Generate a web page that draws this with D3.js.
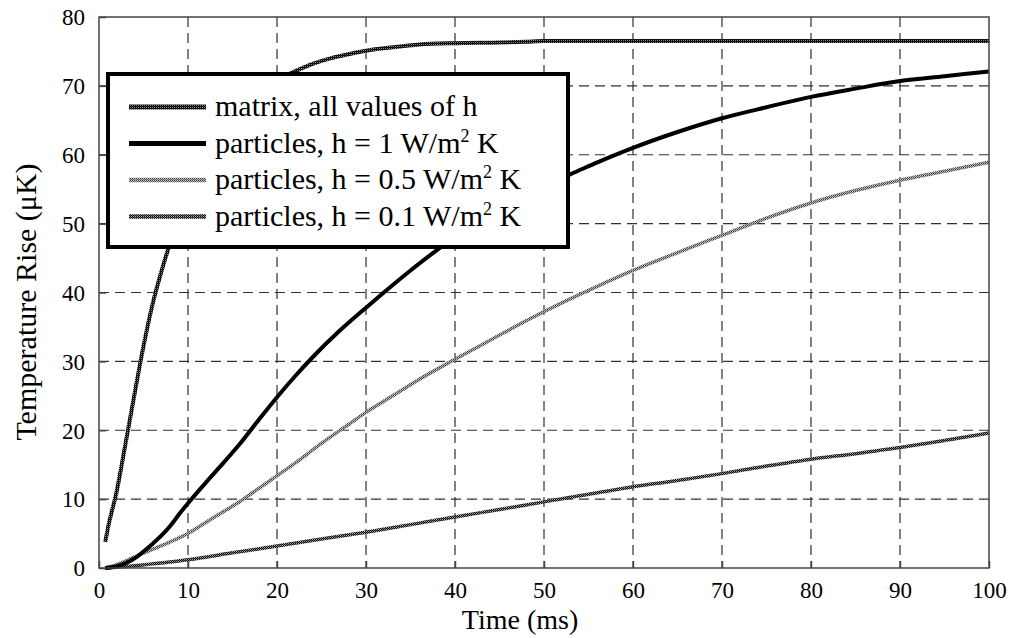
<!DOCTYPE html>
<html>
<head>
<meta charset="utf-8">
<script src="https://cdnjs.cloudflare.com/ajax/libs/d3/7.8.5/d3.min.js"></script>
<style>
    body { margin: 0; background: #ffffff; }
    svg text { font-family: "Liberation Serif", "Times New Roman", Times, "Nimbus Roman", "Noto Serif", "DejaVu Serif", serif; fill: #000; }
</style>
</head>
<body>
<div id="chart"></div>
<script>

// Data (time in ms, temperature rise in µK)
let matrixTime = [0.7, 1, 2, 3, 4, 5, 6, 7, 8, 9, 10, 12, 14, 16, 18, 20, 22, 24, 26, 28, 30, 33, 36, 40, 45, 48, 50, 60, 70, 80, 90, 100];
let matrixRise = [3.8, 5.8, 11.2, 18.2, 25.3, 32.2, 38.2, 43, 47.2, 50.8, 54, 59.5, 63.5, 66.6, 69, 70.8, 72.1, 73.2, 74, 74.6, 75.1, 75.6, 76, 76.2, 76.3, 76.4, 76.5, 76.5, 76.5, 76.5, 76.5, 76.5];

let h1Time = [0.7, 2, 3, 4, 5, 6, 7, 8, 9, 10, 12, 14, 16, 18, 20, 22, 24, 27, 30, 32, 35, 38, 42, 46, 50, 53, 56, 60, 65, 70, 75, 80, 85, 90, 95, 100];
let h1Rise = [0, 0.25, 0.7, 1.4, 2.4, 3.5, 4.7, 6.1, 7.8, 9.4, 12.4, 15.3, 18.3, 21.6, 24.8, 27.8, 30.6, 34.4, 37.8, 40, 43.2, 46.2, 50, 53.2, 55.6, 57.2, 58.9, 61, 63.3, 65.3, 66.9, 68.4, 69.6, 70.7, 71.4, 72.1];

let h05Time = [0.7, 2, 4, 6, 8, 10, 12, 14, 16, 18, 20, 22, 25, 28, 30, 33, 36, 40, 44, 48, 52, 56, 60, 65, 70, 75, 80, 85, 90, 95, 100];
let h05Rise = [0, 0.5, 1.6, 2.7, 3.8, 5, 6.6, 8.2, 9.8, 11.6, 13.4, 15.2, 18.1, 20.8, 22.6, 25, 27.4, 30.3, 33.1, 35.9, 38.5, 40.9, 43.2, 45.8, 48.3, 50.8, 53, 54.8, 56.3, 57.6, 58.9];

let h01Time = [0.7, 3, 6, 10, 15, 20, 25, 30, 35, 40, 45, 50, 55, 60, 65, 70, 75, 80, 85, 90, 95, 100];
let h01Rise = [0, 0.2, 0.6, 1.2, 2.2, 3.2, 4.2, 5.2, 6.3, 7.4, 8.5, 9.6, 10.7, 11.8, 12.7, 13.7, 14.8, 15.8, 16.6, 17.5, 18.5, 19.6];

let xTicks = [0, 10, 20, 30, 40, 50, 60, 70, 80, 90, 100];
let yTicks = [0, 10, 20, 30, 40, 50, 60, 70, 80];

let seriesNames = ["matrix, all values of h", "particles, h = 1 W/m", "particles, h = 0.5 W/m", "particles, h = 0.1 W/m"];

let serifFont = "'Liberation Serif', 'Times New Roman', Times, 'Nimbus Roman', 'Noto Serif', 'DejaVu Serif', serif";

// set the dimensions and margins of the graph
let margin = {top: 17, right: 24, bottom: 70, left: 99},
    width = 1013 - margin.left - margin.right,
    height = 638 - margin.top - margin.bottom;

let svg = d3.select("#chart")
    .append("svg")
    .attr("width", 1013)
    .attr("height", 638);

// halftone-like stroke patterns
let defs = svg.append("defs");
function addPattern(id, cells) {
    let p = defs.append("pattern")
        .attr("id", id)
        .attr("patternUnits", "userSpaceOnUse")
        .attr("width", 2)
        .attr("height", 2);
    cells.forEach(function (c) {
        p.append("rect")
            .attr("x", c[0]).attr("y", c[1])
            .attr("width", 1).attr("height", 1)
            .attr("fill", c[2]);
    });
}
addPattern("pMatrix", [[0, 0, "#000"], [1, 0, "#222"], [0, 1, "#888"], [1, 1, "#000"]]);
addPattern("pHalf", [[0, 0, "#333"], [1, 0, "#ccc"], [0, 1, "#aaa"], [1, 1, "#666"]]);
addPattern("pTenth", [[0, 0, "#000"], [1, 0, "#aaa"], [0, 1, "#666"], [1, 1, "#111"]]);

let g = svg.append("g")
    .attr("transform", "translate(" + margin.left + "," + margin.top + ")");

// scales
let x = d3.scaleLinear().domain([0, 100]).range([0, width]);
let y = d3.scaleLinear().domain([0, 80]).range([height, 0]);

// dashed grid
g.append("g")
    .selectAll("line")
    .data(xTicks.slice(1, -1))
    .enter()
    .append("line")
    .attr("x1", function (d) { return x(d); })
    .attr("x2", function (d) { return x(d); })
    .attr("y1", 0)
    .attr("y2", height)
    .attr("stroke", "#333")
    .attr("stroke-width", 1.2)
    .attr("stroke-dasharray", "10,6");

g.append("g")
    .selectAll("line")
    .data(yTicks.slice(1, -1))
    .enter()
    .append("line")
    .attr("x1", 0)
    .attr("x2", width)
    .attr("y1", function (d) { return y(d); })
    .attr("y2", function (d) { return y(d); })
    .attr("stroke", "#333")
    .attr("stroke-width", 1.2)
    .attr("stroke-dasharray", "10,6");

// axes with inward ticks
let xAxis = g.append("g")
    .attr("transform", "translate(0," + height + ")")
    .call(d3.axisBottom(x).tickValues(xTicks).tickSizeInner(-7).tickSizeOuter(0).tickPadding(13));
let yAxis = g.append("g")
    .call(d3.axisLeft(y).tickValues(yTicks).tickSizeInner(-7).tickSizeOuter(0).tickPadding(14));

[xAxis, yAxis].forEach(function (a) {
    a.attr("font-family", null).attr("font-size", null);
    a.select(".domain").remove();
    a.selectAll(".tick line").attr("stroke", "#444").attr("stroke-width", 1.5);
    a.selectAll(".tick text")
        .style("font-family", serifFont)
        .style("font-size", "23px")
        .attr("fill", "#000");
});
xAxis.selectAll(".tick text").attr("dy", "0.75em");
yAxis.selectAll(".tick text").attr("dy", "0.34em");

// curves
let line = d3.line()
    .x(function (d) { return x(d[0]); })
    .y(function (d) { return y(d[1]); })
    .curve(d3.curveMonotoneX);

let series = [
    {t: matrixTime, v: matrixRise, stroke: "url(#pMatrix)", w: 4},
    {t: h1Time, v: h1Rise, stroke: "#000", w: 4},
    {t: h05Time, v: h05Rise, stroke: "url(#pHalf)", w: 3.5},
    {t: h01Time, v: h01Rise, stroke: "url(#pTenth)", w: 3.5}
];

series.slice().reverse().forEach(function (s) {
    g.append("path")
        .datum(d3.zip(s.t, s.v))
        .attr("fill", "none")
        .attr("stroke", s.stroke)
        .attr("stroke-width", s.w)
        .attr("stroke-linejoin", "round")
        .attr("d", line);
});

// frame
g.append("rect")
    .attr("x", 0).attr("y", 0)
    .attr("width", width).attr("height", height)
    .attr("fill", "none")
    .attr("stroke", "#444")
    .attr("stroke-width", 1.5);

// axis labels
svg.append("text")
    .attr("text-anchor", "middle")
    .attr("x", 520)
    .attr("y", 629)
    .style("font-family", serifFont)
    .style("font-size", "28px")
    .text("Time (ms)");

svg.append("text")
    .attr("text-anchor", "middle")
    .attr("transform", "translate(36,302) rotate(-90)")
    .style("font-family", serifFont)
    .style("font-size", "30px")
    .text("Temperature Rise (\u03bcK)");

// legend
let legend = svg.append("g").attr("transform", "translate(108,74)");
legend.append("rect")
    .attr("width", 460)
    .attr("height", 173)
    .attr("fill", "#fff")
    .attr("stroke", "#000")
    .attr("stroke-width", 4);

series.forEach(function (s, i) {
    let rowY = 33 + i * 36.5;
    legend.append("line")
        .attr("x1", 21).attr("x2", 98)
        .attr("y1", rowY).attr("y2", rowY)
        .attr("stroke", s.stroke)
        .attr("stroke-width", s.w + 1);
    let label = legend.append("text")
        .attr("x", 107)
        .attr("y", rowY + 9)
        .style("font-family", serifFont)
        .style("font-size", "30px")
        .text(seriesNames[i]);
    if (i > 0) {
        label.append("tspan")
            .attr("dy", -11)
            .style("font-size", "18px")
            .text("2");
        label.append("tspan")
            .attr("dy", 11)
            .text(" K");
    }
});

</script>
</body>
</html>
